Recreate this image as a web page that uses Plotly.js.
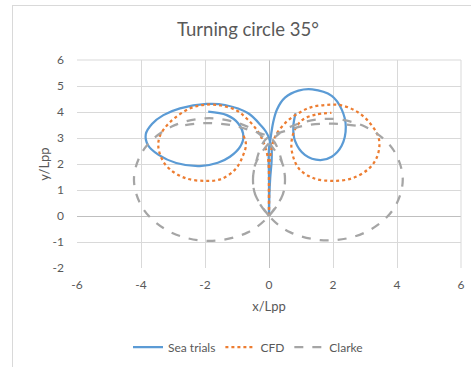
<!DOCTYPE html>
<html>
<head>
<meta charset="utf-8">
<script src="https://cdn.plot.ly/plotly-3.0.1.min.js"></script>
<style>
  html, body { margin: 0; padding: 0; background: #ffffff; overflow: hidden; }
  #wrap { position: absolute; left: 12px; top: 5px; width: 470px; height: 370px; border: 1px solid #d9d9d9; background: #fff; }
  #chart { width: 470px; height: 370px; }
</style>
</head>
<body>
<div id="wrap"><div id="chart"></div></div>
<script>
// ---- Data (x/Lpp, y/Lpp); null separates the two turns ----
const seaTrialsX = [0, 0.01, 0.04, 0.08, 0.08, 0.0, -0.1, -0.23, -0.65, -1.375, -1.95, -2.78, -3.3, -3.65, -3.85, -3.78, -3.45, -2.9, -2.16, -1.6, -1.22, -0.9, -0.8, -0.96, -1.32, -1.9,
  null,
  0, 0.0, 0.0, -0.01, 0.0, 0.05, 0.13, 0.25, 0.5, 0.92, 1.35, 1.96, 2.27, 2.4, 2.27, 1.96, 1.6, 1.12, 0.81, 0.76, 0.83];
const seaTrialsY = [0, 0.8, 1.5, 2.1, 2.6, 3.0, 3.25, 3.45, 3.95, 4.27, 4.31, 4.14, 3.88, 3.55, 3.15, 2.72, 2.35, 2.04, 1.92, 2.05, 2.28, 2.67, 3.05, 3.56, 3.88, 4.01,
  null,
  0, 0.8, 1.5, 2.1, 2.6, 3.0, 3.6, 4.1, 4.55, 4.82, 4.87, 4.62, 4.1, 3.43, 2.7, 2.28, 2.15, 2.35, 2.9, 3.43, 3.95];

const cfdX = [0, 0.0, -0.03, -0.18, -0.38, -0.7, -1.0, -1.5, -2.0, -2.5, -3.1, -3.4, -3.46, -3.35, -3.1, -2.6, -2.0, -1.5, -1.05, -0.82, -0.72, -0.8,
  null,
  0, 0.0, 0.03, 0.19, 0.55, 0.92, 1.3, 1.75, 2.2, 2.7, 3.1, 3.4, 3.45, 3.35, 3.1, 2.6, 2.0, 1.4, 0.95, 0.75, 0.7, 0.8, 1.05, 1.45, 1.95];
const cfdY = [0, 1.2, 2.2, 2.86, 3.31, 3.75, 4.05, 4.25, 4.28, 4.12, 3.6, 3.1, 2.7, 2.2, 1.8, 1.45, 1.35, 1.42, 1.8, 2.3, 2.75, 3.1,
  null,
  0, 1.2, 2.2, 3.05, 3.63, 3.95, 4.18, 4.27, 4.27, 4.05, 3.65, 3.1, 2.7, 2.2, 1.8, 1.45, 1.35, 1.45, 1.8, 2.3, 2.8, 3.3, 3.7, 3.9, 3.97];

const clarkeX = [0, 0.42, 0.5, 0.42, 0.0, -0.68, -1.86, -3.04, -3.9, -4.22, -3.9, -3.04, -1.86, -0.68, 0, 0.42, 0.5, 0.42, 0.1, -0.6, -1.2, -2.0, -2.9,
  null,
  0, -0.42, -0.5, -0.42, 0.0, 0.67, 1.84, 3.01, 3.87, 4.18, 3.87, 3.01, 1.84, 0.67, 0, -0.42, -0.5, -0.42, -0.1, 0.6, 1.2, 2.0, 2.9];
const clarkeY = [0, 0.79, 1.4, 2.01, 2.8, 3.44, 3.76, 3.44, 2.58, 1.4, 0.22, -0.64, -0.96, -0.64, 0, 0.79, 1.4, 2.01, 2.95, 3.3, 3.5, 3.57, 3.45,
  null,
  0, 0.79, 1.4, 2.01, 2.8, 3.43, 3.74, 3.43, 2.57, 1.4, 0.23, -0.63, -0.94, -0.63, 0, 0.79, 1.4, 2.01, 2.95, 3.3, 3.5, 3.55, 3.45];

const seriesNames = ["Sea trials", "CFD", "Clarke"];
const xTickVals = [-6, -4, -2, 0, 2, 4, 6];
const xTickText = ["-6", "-4", "-2", "0", "2", "4", "6"];
const yTickVals = [-2, -1, 0, 1, 2, 3, 4, 5, 6];
const yTickText = ["-2", "-1", "0", "1", "2", "3", "4", "5", "6"];
const chartTitle = "Turning circle 35°";
const xTitle = "x/Lpp";
const yTitle = "y/Lpp";

const FONT = "Lato, 'Open Sans', sans-serif";
const TXT = "#595959";

const traces = [
  { x: seaTrialsX, y: seaTrialsY, name: seriesNames[0], mode: "lines",
    line: { color: "#5b9bd5", width: 2.25, shape: "spline", smoothing: 1 } },
  { x: cfdX, y: cfdY, name: seriesNames[1], mode: "lines",
    line: { color: "#ed7d31", width: 2.25, dash: "dot", shape: "spline", smoothing: 1 } },
  { x: clarkeX, y: clarkeY, name: seriesNames[2], mode: "lines",
    line: { color: "#a5a5a5", width: 2.25, dash: "dash", shape: "spline", smoothing: 1 } }
];

const layout = {
  width: 470, height: 370,
  margin: { l: 64, r: 22, t: 54, b: 108 },
  paper_bgcolor: "#ffffff", plot_bgcolor: "#ffffff",
  font: { family: FONT, color: TXT, size: 12 },
  showlegend: true,
  title: { text: chartTitle, font: { family: FONT, size: 18.5, color: TXT },
           x: 0.5, xref: "container", xanchor: "center", y: 1 - 24 / 370, yref: "container", yanchor: "middle" },
  xaxis: {
    range: [-6, 6], tickmode: "array", tickvals: xTickVals, ticktext: xTickText,
    showgrid: true, gridcolor: "#d9d9d9", gridwidth: 1,
    zeroline: true, zerolinecolor: "#bfbfbf", zerolinewidth: 1,
    showline: false, ticks: "", ticklabelstandoff: 8,
    tickfont: { family: FONT, size: 12, color: TXT },
    title: { text: xTitle, font: { family: FONT, size: 13, color: TXT }, standoff: 10 },
    fixedrange: true
  },
  yaxis: {
    range: [-2, 6], tickmode: "array", tickvals: yTickVals, ticktext: yTickText,
    showgrid: true, gridcolor: "#d9d9d9", gridwidth: 1,
    zeroline: true, zerolinecolor: "#bfbfbf", zerolinewidth: 1,
    showline: false, ticks: "", ticklabelstandoff: 12,
    tickfont: { family: FONT, size: 12, color: TXT },
    title: { text: yTitle, font: { family: FONT, size: 13, color: TXT }, standoff: 0 },
    fixedrange: true
  },
  legend: {
    orientation: "h", x: 0.5, xref: "container", xanchor: "center",
    y: 1 - 341 / 370, yref: "container", yanchor: "middle",
    font: { family: FONT, size: 12, color: TXT },
    bgcolor: "rgba(0,0,0,0)"
  },
  shapes: [
    { type: "line", xref: "paper", yref: "paper", x0: 0, x1: 1, y0: 1, y1: 1, line: { color: "#d9d9d9", width: 1 } },
    { type: "line", xref: "paper", yref: "paper", x0: 1, x1: 1, y0: 0, y1: 1, line: { color: "#d9d9d9", width: 1 } }
  ]
};

Plotly.newPlot("chart", traces, layout, { displayModeBar: false, staticPlot: true });
</script>
</body>
</html>
